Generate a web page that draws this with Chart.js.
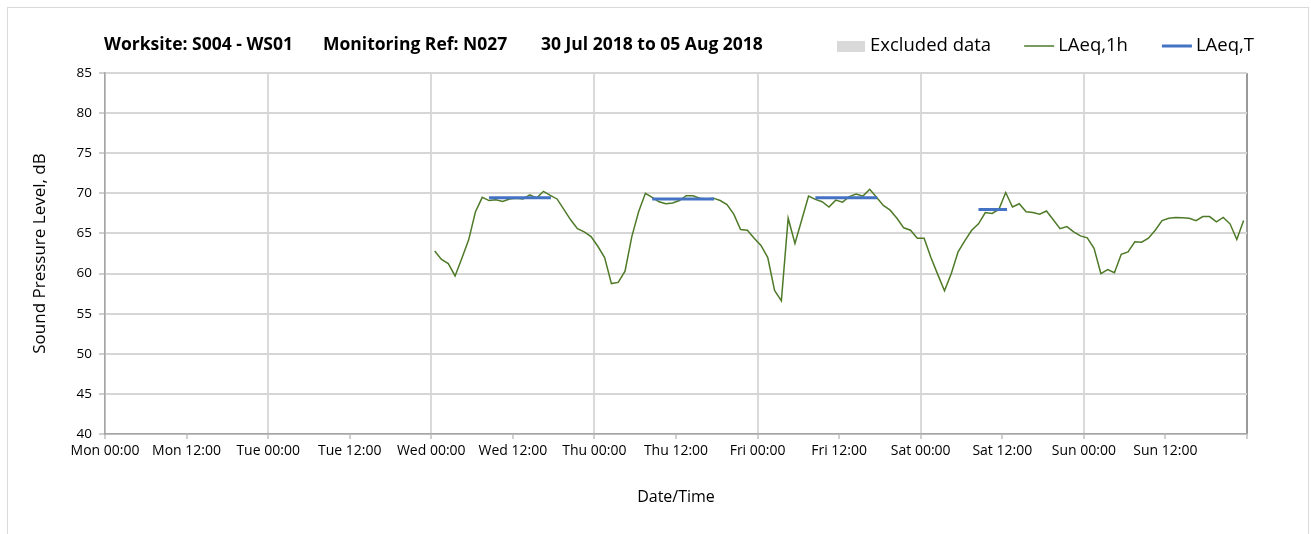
<!DOCTYPE html>
<html>
<head>
<meta charset="utf-8">
<script src="https://cdn.jsdelivr.net/npm/chart.js@4.4.0/dist/chart.umd.min.js"></script>
<style>
  body { margin: 0; background: #fff; }
  #wrap { width: 1311px; height: 534px; position: relative; }
</style>
</head>
<body>
<div id="wrap"><canvas id="noiseChart" width="1311" height="534"></canvas></div>
<script>
// Hourly LAeq,1h values, Wed 00:30 to Sun 23:30 (hours from Mon 00:00)
var firstHour = 48.5;
var laeq1h = [
    62.8, 61.75, 61.25, 59.7, 61.9, 64.2, 67.7, 69.5, 69.1, 69.2, 69.0, 69.3,
    69.4, 69.3, 69.8, 69.4, 70.25, 69.75, 69.3, 68.0, 66.7, 65.6, 65.2, 64.6,
    63.4, 62.0, 58.75, 58.9, 60.3, 64.6, 67.7, 70.0, 69.5, 68.95, 68.7, 68.8,
    69.1, 69.7, 69.7, 69.4, 69.3, 69.4, 69.1, 68.6, 67.4, 65.5, 65.4, 64.4,
    63.5, 62.0, 57.9, 56.6, 66.9, 63.75, 66.7, 69.65, 69.25, 68.95, 68.3, 69.15,
    68.9, 69.6, 69.9, 69.65, 70.5, 69.5, 68.5, 67.9, 66.9, 65.7, 65.4, 64.4,
    64.4, 62.0, 59.9, 57.85, 60.0, 62.7, 64.1, 65.4, 66.2, 67.6, 67.5, 68.0,
    70.1, 68.3, 68.7, 67.7, 67.6, 67.4, 67.8, 66.7, 65.6, 65.85, 65.2, 64.7,
    64.45, 63.15, 60.0, 60.5, 60.1, 62.4, 62.7, 63.95, 63.9, 64.4, 65.4, 66.6,
    66.9, 67.0, 66.95, 66.9, 66.6, 67.1, 67.1, 66.45, 67.0, 66.2, 64.25, 66.6
];

// LAeq,T periods (start hour, end hour, level)
var periodStart = [56.5, 80.5, 104.5, 128.5];
var periodEnd = [65.6, 89.6, 113.6, 132.7];
var periodLevel = [69.45, 69.3, 69.45, 68.0];

var xTickLabels = ['Mon 00:00', 'Mon 12:00', 'Tue 00:00', 'Tue 12:00', 'Wed 00:00', 'Wed 12:00',
    'Thu 00:00', 'Thu 12:00', 'Fri 00:00', 'Fri 12:00', 'Sat 00:00', 'Sat 12:00',
    'Sun 00:00', 'Sun 12:00', ''];

var titleParts = ['Worksite: S004 - WS01', 'Monitoring Ref: N027', '30 Jul 2018 to 05 Aug 2018'];

document.addEventListener("DOMContentLoaded", function () {
    var ctx = document.getElementById('noiseChart').getContext('2d');
    var font = "'Open Sans', 'Noto Sans', sans-serif";

    // Build point lists from the arrays
    var hourlyPoints = laeq1h.map(function (v, i) {
        return { x: firstHour + i, y: v };
    });
    var periodPoints = [];
    for (var i = 0; i < periodStart.length; i++) {
        periodPoints.push({ x: periodStart[i], y: periodLevel[i] });
        periodPoints.push({ x: periodEnd[i], y: periodLevel[i] });
        periodPoints.push({ x: periodEnd[i] + 0.1, y: null });
    }

    // Draws the frame, the title and the legend
    var decorations = {
        id: 'decorations',
        beforeDraw: function (chart) {
            var c = chart.ctx;
            c.save();
            c.strokeStyle = '#d9d9d9';
            c.lineWidth = 1;
            c.strokeRect(7.5, 7.5, 1301, 600);
            c.restore();
        },
        afterDraw: function (chart) {
            var c = chart.ctx;
            var left = chart.chartArea.left;
            c.save();
            c.fillStyle = '#000';
            c.textBaseline = 'middle';
            c.font = "bold 17.5px " + font;
            c.fillText(titleParts[0], left - 1, 45);
            c.fillText(titleParts[1], left + 218, 45);
            c.fillText(titleParts[2], left + 436, 45);

            // legend
            var ds = chart.data.datasets;
            c.font = "18.5px " + font;
            var x = 837;
            var y = 46;
            // excluded data box
            c.fillStyle = ds[2].backgroundColor;
            c.fillRect(x, y - 5, 28, 11);
            x += 33;
            c.fillStyle = '#000';
            c.fillText(ds[2].label, x, y);
            x += c.measureText(ds[2].label).width + 33;
            [0, 1].forEach(function (k) {
                c.strokeStyle = ds[k].borderColor;
                c.lineWidth = ds[k].borderWidth;
                c.beginPath();
                c.moveTo(x, y);
                c.lineTo(x + 30, y);
                c.stroke();
                x += 34;
                c.fillText(ds[k].label, x, y);
                x += c.measureText(ds[k].label).width + 34;
            });
            c.restore();
        }
    };

    function tickValue(c) {
        return c.tick ? c.tick.value : c.index * 12;
    }

    var noiseChart = new Chart(ctx, {
        type: 'line',
        data: {
            datasets: [{
                label: 'LAeq,1h',
                data: hourlyPoints,
                borderColor: '#4e7a28',
                borderWidth: 1.5,
                pointRadius: 0,
                tension: 0,
                order: 1
            }, {
                label: 'LAeq,T',
                data: periodPoints,
                borderColor: '#4472c4',
                borderWidth: 3,
                pointRadius: 0,
                spanGaps: false,
                order: 0
            }, {
                label: 'Excluded data',
                data: [],
                backgroundColor: '#d9d9d9',
                borderColor: '#d9d9d9',
                pointRadius: 0,
                order: 2
            }]
        },
        options: {
            responsive: false,
            animation: false,
            layout: { padding: { left: 0, right: 64, top: 73, bottom: 0 } },
            plugins: {
                legend: { display: false },
                title: { display: false },
                tooltip: { enabled: false }
            },
            scales: {
                x: {
                    type: 'linear',
                    min: 0,
                    max: 168,
                    afterFit: function (scale) { scale.height = 100; },
                    ticks: {
                        stepSize: 12,
                        autoSkip: false,
                        maxRotation: 0,
                        padding: 4,
                        color: '#000',
                        font: { family: font, size: 14 },
                        callback: function (value) { return xTickLabels[value / 12]; }
                    },
                    grid: {
                        color: function (c) {
                            var v = tickValue(c);
                            if (v === 168) return '#9a9a9a';
                            return v % 24 === 0 ? '#dadada' : 'rgba(0,0,0,0)';
                        },
                        lineWidth: 2,
                        tickLength: 5,
                        tickColor: '#a0a0a0',
                        tickWidth: 1
                    },
                    border: { color: '#a6a6a6', width: 1.5 },
                    title: {
                        display: true,
                        text: 'Date/Time',
                        color: '#000',
                        font: { family: font, size: 16 },
                        padding: { top: 0, bottom: 27 }
                    }
                },
                y: {
                    min: 40,
                    max: 85,
                    afterFit: function (scale) { scale.width = 105; },
                    ticks: {
                        stepSize: 5,
                        padding: 7,
                        color: '#000',
                        font: { family: font, size: 13.5 }
                    },
                    grid: {
                        color: '#d6d6d6',
                        lineWidth: 2,
                        tickLength: 6,
                        tickColor: '#a0a0a0',
                        tickWidth: 1
                    },
                    border: { color: '#a6a6a6', width: 1.5 },
                    title: {
                        display: true,
                        text: 'Sound Pressure Level, dB',
                        color: '#000',
                        font: { family: font, size: 17 },
                        padding: { top: 30, bottom: 0 }
                    }
                }
            }
        },
        plugins: [decorations]
    });
});
</script>
</body>
</html>
